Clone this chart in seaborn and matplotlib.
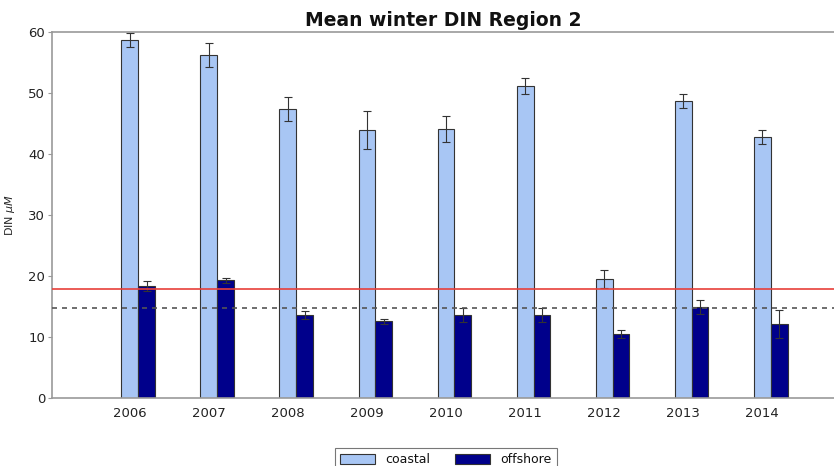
import matplotlib
matplotlib.use("Agg")
import matplotlib.pyplot as plt
import seaborn as sns
import pandas as pd
import numpy as np

years = ["2006", "2007", "2008", "2009", "2010", "2011", "2012", "2013", "2014"]
coastal = [58.7, 56.2, 47.4, 43.9, 44.1, 51.1, 19.5, 48.7, 42.8]
coastal_err = [1.2, 2.0, 2.0, 3.1, 2.2, 1.3, 1.5, 1.1, 1.2]
offshore = [18.4, 19.3, 13.6, 12.6, 13.6, 13.6, 10.5, 14.9, 12.1]
offshore_err = [0.8, 0.4, 0.6, 0.4, 1.2, 1.2, 0.6, 1.2, 2.3]
red_level = 17.9
dashed_level = 14.8

sns.set_style("white")
plt.rcParams['font.family'] = ['DejaVu Sans']
plt.rcParams['text.color'] = '#111111'
plt.rcParams['xtick.color'] = '#222222'
plt.rcParams['ytick.color'] = '#222222'

df = pd.DataFrame({
    "year": years * 2,
    "DIN": coastal + offshore,
    "err": coastal_err + offshore_err,
    "type": ["coastal"] * len(years) + ["offshore"] * len(years),
})

fig = plt.figure(figsize=(8.34, 4.66), dpi=100)
ax = fig.add_axes([52/834, 1 - 398/466, 1 - 52/834, (398 - 32)/466])

bw = 0.43
sns.barplot(data=df, x="year", y="DIN", hue="type", order=years,
            hue_order=["coastal", "offshore"],
            palette={"coastal": "#a8c6f4", "offshore": "#00008b"},
            saturation=1, width=bw, dodge=True, errorbar=None, ax=ax,
            edgecolor="#333333", linewidth=0.8, legend=True)

# error bars on top of each bar
for cont, errs in zip(ax.containers, [coastal_err, offshore_err]):
    xs = [p.get_x() + p.get_width() / 2 for p in cont.patches]
    hs = [p.get_height() for p in cont.patches]
    ax.errorbar(xs, hs, yerr=errs, fmt="none", ecolor="#333333",
                elinewidth=0.8, capsize=3, capthick=0.8, zorder=5)

ax.axhline(red_level, color="#e8403a", lw=1.2, zorder=6)
ax.axhline(dashed_level, color="#555555", lw=1.2, ls=(0, (3, 3)), zorder=6)

coast_centers = [p.get_x() + p.get_width() / 2 for p in ax.containers[0].patches]
ax.set_xticks(coast_centers)
ax.set_xticklabels(years, fontsize=9.5)
ax.set_xlim(coast_centers[0] - 0.987, coast_centers[0] + 8.911)
ax.set_ylim(0, 60)
ax.set_yticks([0, 10, 20, 30, 40, 50, 60])
ax.tick_params(axis="y", labelsize=9.5, left=True, length=3, color="#999999", pad=2)
ax.tick_params(axis="x", bottom=False, pad=3)
ax.set_xlabel("")
ax.set_ylabel("DIN $\\mu M$", fontsize=8, labelpad=8)
ax.set_title("Mean winter DIN Region 2", fontsize=13.5, fontweight="bold", pad=4,
             color="#111111")

for side in ["left", "bottom", "top"]:
    ax.spines[side].set_color("#999999")
    ax.spines[side].set_linewidth(1.2)
ax.spines["right"].set_visible(False)

handles, labels = ax.get_legend_handles_labels()
ax.get_legend().remove()
leg = fig.legend(handles, labels, loc="upper center",
                 bbox_to_anchor=(446/834, 1 - 442/466), ncol=2,
                 fontsize=9, frameon=True, fancybox=False, edgecolor="#555555",
                 handlelength=2.8, handleheight=0.9, columnspacing=2.0,
                 borderpad=0.4)
leg.get_frame().set_linewidth(0.8)

fig.savefig("out.png", dpi=100)
